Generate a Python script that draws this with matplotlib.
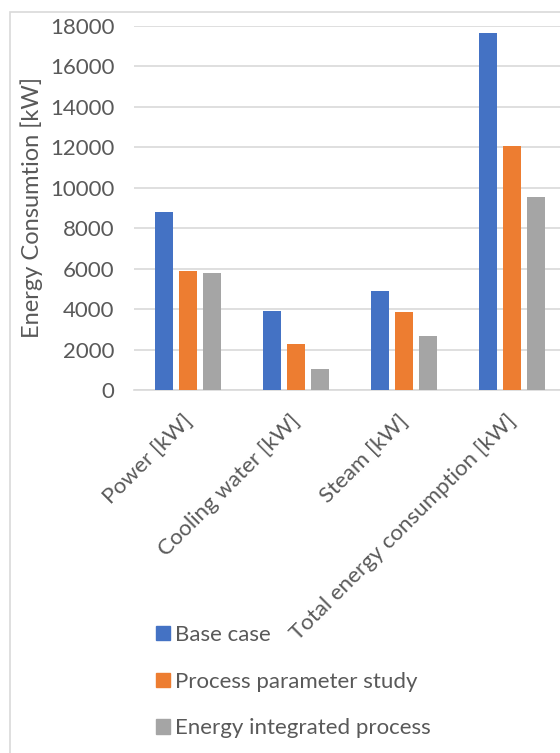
import numpy as np
import matplotlib
matplotlib.use("Agg")
import matplotlib.pyplot as plt
import matplotlib.transforms as mtransforms
from matplotlib.patches import Rectangle, Patch

plt.rcParams['font.family'] = ['Lato', 'DejaVu Sans']

categories = ['Power [kW]', 'Cooling water [kW]', 'Steam [kW]',
              'Total energy consumption [kW]']
series_names = ['Base case', 'Process parameter study', 'Energy integrated process']
base_case = [8800, 3920, 4900, 17640]
param_study = [5900, 2280, 3860, 12080]
integrated = [5800, 1020, 2690, 9560]
colors = ['#4472C4', '#ED7D31', '#A5A5A5']
yticks = [0, 2000, 4000, 6000, 8000, 10000, 12000, 14000, 16000, 18000]

W, H = 560, 753
fig = plt.figure(figsize=(W / 100, H / 100), dpi=100)

# outer chart border (light grey, clipped at right/bottom like the source)
fig.patches.append(Rectangle((10 / W, -0.1), 1.2, 1 - 12 / H + 0.1,
                             transform=fig.transFigure, fill=False,
                             edgecolor='#d9d9d9', linewidth=1.2))

ax = fig.add_axes([134 / W, (H - 390) / H, 432 / W, 364 / H])

x = np.arange(len(categories))
width = 0.175
offsets = [-0.222, 0, 0.222]
for vals, off, c, name in zip([base_case, param_study, integrated], offsets, colors, series_names):
    ax.bar(x + off, vals, width, color=c, label=name, zorder=3)

ax.set_xlim(-0.5, 3.5)
ax.set_ylim(0, 18000)
ax.set_yticks(yticks)
ax.set_yticklabels([str(v) for v in yticks], fontsize=16, color='#595959')
ax.yaxis.grid(True, color='#d9d9d9', linewidth=1.2, zorder=0)
ax.tick_params(axis='y', length=0, pad=14)
ax.tick_params(axis='x', length=0, pad=15)
ax.set_xticks(x)
ax.set_xticklabels(categories, rotation=45, ha='right', rotation_mode='anchor',
                   fontsize=16, color='#595959')
shift = mtransforms.ScaledTranslation(-6 / 100, 0, fig.dpi_scale_trans)
for lbl in ax.get_xticklabels():
    lbl.set_transform(lbl.get_transform() + shift)

for s in ['top', 'right', 'left']:
    ax.spines[s].set_visible(False)
ax.spines['bottom'].set_color('#d9d9d9')
ax.spines['bottom'].set_linewidth(1.2)

fig.text(32 / W, 1 - 208 / H, 'Energy Consumtion [kW]', rotation=90,
         ha='center', va='center', fontsize=17, color='#595959')

handles = [Patch(color=c) for c in colors]
fig.legend(handles, series_names, loc='upper left',
           bbox_to_anchor=(156 / W, 1 - 625 / H), frameon=False, borderpad=0,
           borderaxespad=0, fontsize=16, labelcolor='#595959', handlelength=0.62,
           handleheight=0.62, handletextpad=0.25, labelspacing=1.2)

fig.savefig('out.png', dpi=100)
